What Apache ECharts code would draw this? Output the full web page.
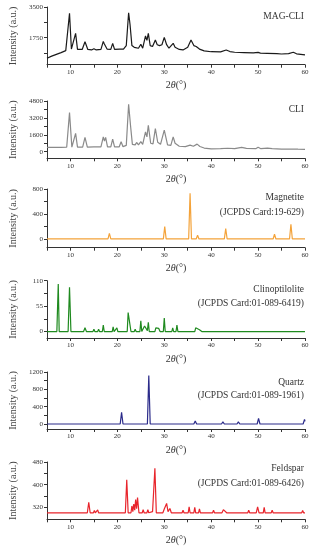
<!DOCTYPE html>
<html><head><meta charset="utf-8">
<script src="https://cdn.jsdelivr.net/npm/echarts@6/dist/echarts.min.js"></script>
<style>html,body{margin:0;padding:0;background:#fff}#c{width:315px;height:550px}</style>
</head><body><div id="c"></div>
<script>
const xTicks = [5,10,15,20,25,30,35,40,45,50,55,60];
const xLabels = [10,20,30,40,50,60];

const names = ['MAG-CLI','CLI','Magnetite','Clinoptilolite','Quartz','Feldspar'];
const cards = ['','','(JCPDS Card:19-629)','(JCPDS Card:01-089-6419)','(JCPDS Card:01-089-1961)','(JCPDS Card:01-089-6426)'];

const yLabels1 = [1750,3500];
const yLabels2 = [0,1600,3200,4800];
const yLabels3 = [0,400,800];
const yLabels4 = [0,55,110];
const yLabels5 = [0,400,800,1200];
const yLabels6 = [320,400,480];

const magcli = [[5,575],[6,700],[7,800],[8,900],[9,1010],[9.4,1100],[9.8,3140],[10.2,1100],[10.6,1050],[11.1,2000],[11.5,1080],[12.5,1080],[13.1,1520],[13.7,1080],[14.5,1050],[15,1120],[15.5,1050],[16.5,1080],[17,1540],[17.2,1400],[17.4,1500],[17.8,1100],[18.6,1080],[19,1430],[19.4,1080],[20.5,1100],[20.8,1180],[21.3,1100],[21.9,1300],[22.4,3175],[22.7,2500],[23.1,1300],[23.6,1200],[24,1250],[24.5,1150],[25,1380],[25.4,1150],[26,1850],[26.3,1600],[26.6,2000],[27,1300],[27.5,1250],[28.1,1620],[28.5,1350],[29,1300],[29.5,1350],[30,1770],[30.5,1350],[31,1150],[31.9,1430],[32.3,1200],[32.7,1300],[33.2,1080],[34,1050],[35,1200],[35.7,1620],[36.3,1300],[36.8,1250],[37.5,1100],[38.5,1000],[40,950],[42,940],[43.2,1050],[44,960],[45,920],[47,900],[49,880],[50,910],[50.5,870],[52,860],[54,840],[55,820],[56.5,840],[57.5,920],[58.2,830],[60,770]];

const cli = [[5,410],[8,420],[9.2,430],[9.8,3700],[10.3,430],[10.7,440],[11.1,1730],[11.5,440],[12.6,440],[13.1,1350],[13.6,440],[15,460],[16.5,460],[17,1410],[17.25,1000],[17.5,1350],[17.9,460],[18.6,460],[19,1195],[19.4,460],[20.4,470],[20.8,940],[21.2,480],[21.9,600],[22.4,4490],[22.8,2500],[23.2,700],[23.8,650],[24.1,880],[24.5,650],[25,950],[25.4,700],[26,1880],[26.3,1400],[26.6,2510],[27.1,800],[27.6,750],[28.1,2200],[28.6,900],[29.2,700],[30,2040],[30.7,650],[31.4,600],[31.9,1410],[32.3,800],[32.6,900],[33.2,520],[34.5,480],[35.5,630],[36.2,520],[37,720],[37.6,500],[38.5,350],[40,280],[42,300],[43.5,330],[45,300],[46.5,420],[47.5,320],[49.5,290],[50,430],[50.6,290],[52,340],[53,290],[55,250],[57,260],[58.5,240],[60,225]];

const magnetite = [[5,0],[18,0],[18.3,91],[18.6,0],[29.8,0],[30.1,197],[30.4,0],[35.2,0],[35.5,731],[35.8,0],[36.8,0],[37.1,59],[37.4,0],[42.8,0],[43.1,165],[43.4,0],[53.2,0],[53.5,75],[53.8,0],[56.7,0],[57.0,235],[57.3,0],[60,0]];

const clino = [[5,0],[7.1,0],[7.25,52],[7.4,103],[7.6,0],[9.5,0],[9.8,96],[10.1,0],[12.8,0],[13.1,8],[13.4,0],[14.8,0],[15,5],[15.2,0],[15.8,0],[16,5],[16.2,0],[16.8,0],[17,14],[17.2,0],[18.9,0],[19.1,10],[19.3,0],[19.7,0],[19.9,8],[20.1,0],[22.1,0],[22.3,41],[22.5,38],[22.7,39],[22.9,0],[23.6,0],[23.8,5],[24,0],[24.8,0],[25,23],[25.2,0],[25.6,0],[25.8,12],[26,8],[26.2,12],[26.4,2],[26.6,20],[26.8,0],[28,0],[28.2,8],[28.5,6],[28.8,7],[29.1,0],[29.8,0],[30,29],[30.2,0],[31.6,0],[31.8,8],[32,0],[32.5,0],[32.7,14],[32.9,0],[35.3,0],[35.5,3],[35.8,0],[36.5,0],[36.7,8],[37,5],[37.5,4],[38,0],[43,0],[43.2,3],[43.4,0],[46.8,0],[47,3],[47.2,0],[49.8,0],[50,3],[50.2,0],[51,0],[51.2,3],[51.4,0],[52,0],[52.2,3],[52.4,0],[53.8,0],[54,3],[54.2,0],[60,0]];

const quartz = [[5,0],[20.6,0],[20.9,270],[21.2,0],[26.4,0],[26.7,1116],[27.0,0],[36.3,0],[36.6,69],[36.9,0],[39.3,0],[39.5,30],[39.7,0],[42.2,0],[42.5,48],[42.8,0],[45.5,0],[45.8,50],[46.1,0],[49.8,0],[50.1,131],[50.4,0],[54.7,0],[54.9,20],[55.1,0],[59.6,0],[59.9,108],[60,60]];

const feldspar = [[5,301],[13.6,301],[13.9,338],[14.2,301],[14.9,301],[15.1,309],[15.3,301],[15.6,301],[15.8,311],[16,301],[21.7,301],[22,417],[22.3,301],[22.9,301],[23.1,325],[23.3,305],[23.5,332],[23.7,310],[23.9,348],[24.1,315],[24.3,355],[24.6,301],[25.3,301],[25.5,312],[25.7,301],[26.3,301],[26.5,312],[26.7,301],[27.5,305],[27.75,381],[28,458],[28.3,301],[29.7,301],[30,314],[30.2,308],[30.5,334],[30.8,305],[31.2,316],[31.5,301],[33.8,301],[34,310],[34.2,301],[35.1,301],[35.3,322],[35.5,301],[36.3,301],[36.5,320],[36.7,301],[37.3,301],[37.5,315],[37.7,301],[40.3,301],[40.5,310],[40.7,301],[42.3,301],[42.6,312],[43,313],[43.3,301],[47.8,301],[48,310],[48.2,301],[49.6,301],[49.9,322],[50.2,301],[51.1,301],[51.3,320],[51.5,301],[52.8,301],[53,310],[53.2,301],[57.8,301],[58,308],[58.2,301],[59.3,301],[59.5,309],[59.7,301],[60,301]];

const seriesData = [magcli, cli, magnetite, clino, quartz, feldspar];
const yLabelSets = [yLabels1, yLabels2, yLabels3, yLabels4, yLabels5, yLabels6];
const yMins = [210, -620, -140, -14, -115, 278];
const yMaxs = [3500, 4800, 800, 110, 1200, 480];
const colors = ['#1a1a1a', '#8a8a8a', '#f4a33a', '#1f8a1f', '#2b2b8a', '#e8242b'];

// layout (pixels)
const tops = [7, 101, 189, 280.7, 372, 462];
const axisY = [64.7, 158.3, 247.7, 338, 429, 519.3];

const FONT = '"Liberation Serif","DejaVu Serif",serif';
const plain = v => String(v);
const grids = [], xAxes = [], yAxes = [], series = [], graphics = [];
for (let i = 0; i < 6; i++) {
  grids.push({left: 41, width: 264, top: tops[i], height: axisY[i] - tops[i], containLabel: false});
  xAxes.push({
    type: 'value', gridIndex: i, min: 5, max: 60,
    splitLine: {show: false},
    axisLine: {show: true, onZero: false, lineStyle: {color: '#333', width: 1}},
    axisTick: {show: true, customValues: xTicks, length: 3, lineStyle: {color: '#333'}},
    axisLabel: {customValues: xLabels, formatter: plain, fontSize: 7, color: '#333', margin: 4, fontFamily: FONT},
    name: '2{i|θ}(°)', nameLocation: 'middle', nameGap: 16,
    nameTextStyle: {fontSize: 10, color: '#333', fontFamily: FONT, rich: {i: {fontStyle: 'italic', fontSize: 10, color: '#333', fontFamily: FONT}}}
  });
  const labs = yLabelSets[i];
  const ticks = [];
  for (let k = 0; k < labs.length; k++) {
    ticks.push(labs[k]);
    if (k > 0) ticks.push((labs[k] + labs[k-1]) / 2);
  }
  if (i === 0) ticks.push(875);
  yAxes.push({
    type: 'value', gridIndex: i, min: yMins[i], max: yMaxs[i],
    splitLine: {show: false},
    axisLine: {show: true, onZero: false, lineStyle: {color: '#333', width: 1}},
    axisTick: {show: true, customValues: ticks, length: 3, lineStyle: {color: '#333'}},
    axisLabel: {customValues: labs, formatter: plain, fontSize: 7, color: '#333', margin: 4, fontFamily: FONT},
    name: 'Intensity (a.u.)', nameLocation: 'middle', nameGap: 29,
    nameTextStyle: {fontSize: 10, color: '#444', fontFamily: FONT}
  });
  series.push({
    type: 'line', xAxisIndex: i, yAxisIndex: i, data: seriesData[i],
    showSymbol: false, symbol: 'none', animation: false,
    lineStyle: {color: colors[i], width: 1.2}
  });
}
const nameY = [17, 110.7, 198, 290.7, 383, 469];
const cardY = [0, 0, 213, 304.7, 396.7, 484];
for (let i = 0; i < 6; i++) {
  graphics.push({type: 'text', right: 11, top: nameY[i] - 6, style: {text: names[i], fontSize: 9.5, fill: '#333', fontFamily: FONT, textAlign: 'right'}});
  if (cards[i]) graphics.push({type: 'text', right: 11, top: cardY[i] - 6, style: {text: cards[i], fontSize: 9.5, fill: '#333', fontFamily: FONT, textAlign: 'right'}});
}
const chart = echarts.init(document.getElementById('c'), null, {renderer: 'canvas'});
chart.setOption({animation: false, grid: grids, xAxis: xAxes, yAxis: yAxes, series: series, graphic: graphics});
</script></body></html>
